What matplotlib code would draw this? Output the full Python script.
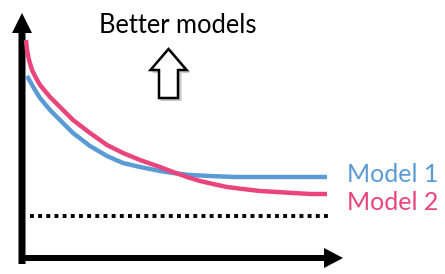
import matplotlib
matplotlib.use("Agg")
import matplotlib.pyplot as plt
from matplotlib.patches import FancyArrow

plt.rcParams['font.family'] = ['Lato', 'DejaVu Sans']

# curves (pixel space, y grows downward)
model2_x = [26, 27, 29, 32, 36, 40, 50, 60, 73, 90, 107, 123, 140, 160, 173, 187,
            200, 213, 227, 243, 260, 277, 293, 310, 327]
model2_y = [40, 50, 60, 70, 78, 85, 97, 107, 120, 133, 145, 153, 160, 167, 172, 177,
            181, 184, 187, 189, 191, 192, 193, 194, 194]
model1_x = [27, 31, 35, 40, 50, 60, 73, 90, 107, 123, 140, 160, 173, 190, 210,
            235, 260, 295, 327]
model1_y = [76, 83, 90, 98, 110, 120, 133, 146, 156, 163, 167, 171, 173, 175, 176,
            177, 177, 177, 177]
floor_y = 216
floor_x = [30, 330]

labels = ["Model 1", "Model 2"]
blue = "#5b9bd5"
pink = "#e9457c"

fig = plt.figure(figsize=(4.45, 2.74), dpi=100)
ax = fig.add_axes([0, 0, 1, 1])
ax.set_xlim(0, 445)
ax.set_ylim(274, 0)
ax.axis('off')

# axes arrows
ax.add_patch(FancyArrow(22, 264, 0, -251, width=7, head_width=20, head_length=20,
                        length_includes_head=True, fc='black', ec='black', lw=0))
ax.add_patch(FancyArrow(19, 258, 324, 0, width=6, head_width=20, head_length=19,
                        length_includes_head=True, fc='black', ec='black', lw=0))

ax.plot(model1_x, model1_y, color=blue, lw=3.2, solid_capstyle='butt',
        solid_joinstyle='round')
ax.plot(model2_x, model2_y, color=pink, lw=3.2, solid_capstyle='butt',
        solid_joinstyle='round')
ax.hlines(floor_y, floor_x[0], floor_x[1], colors='black', lw=2.8,
          linestyles=(0, (1, 1.1)))

ax.text(347, 182, labels[0], color=blue, fontsize=18, va='baseline', ha='left')
ax.text(347, 210, labels[1], color=pink, fontsize=18, va='baseline', ha='left')
ax.text(99, 33, "Better models", color='black', fontsize=18.4, va='baseline', ha='left')

# hollow "better" arrow with a soft shadow
ax.add_patch(FancyArrow(171, 100, 0, -49, width=19, head_width=36, head_length=21,
                        length_includes_head=True, fc='#c8c8c8', ec='#c8c8c8', lw=1.5))
ax.add_patch(FancyArrow(168.5, 98, 0, -49, width=19, head_width=36, head_length=21,
                        length_includes_head=True, fc='white', ec='black', lw=1.8))

fig.savefig("out.png", dpi=100)
